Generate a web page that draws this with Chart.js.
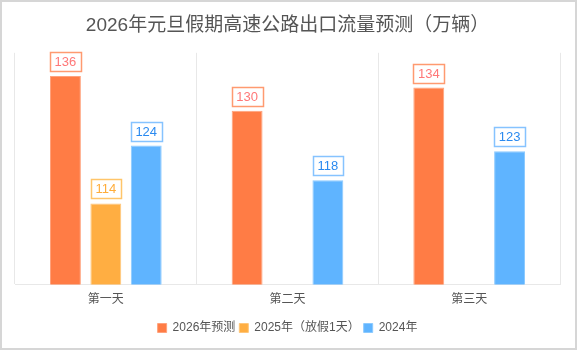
<!DOCTYPE html>
<html>
<head>
<meta charset="utf-8">
<script src="https://cdn.jsdelivr.net/npm/chart.js@4/dist/chart.umd.min.js"></script>
<style>
    html, body { margin: 0; padding: 0; background: #fff; }
    .frame {
        width: 577px;
        height: 350px;
        box-sizing: border-box;
        border: 2px solid #d6d6d6;
        background: #fff;
    }
    .frame canvas { display: block; }
</style>
</head>
<body>
<div class="frame"><canvas id="flowChart" width="573" height="346"></canvas></div>
<script>
// Data (万辆)
const categories = ['第一天', '第二天', '第三天'];
const forecast2026 = [136, 130, 134];
const actual2025 = [114, null, null];
const actual2024 = [124, 118, 123];

const seriesNames = ['2026年预测', '2025年（放假1天）', '2024年'];
const barColors = ['#ff7c45', '#ffae42', '#5fb4ff'];
const barBorders = ['#ffa27c', '#ffc67a', '#8ccaff'];
const labelText = ['#ff7878', '#ffad3a', '#2a8af0'];
const labelBorder = ['#ff9a70', '#ffc56a', '#86c3ff'];

const FONT = 'Arial, "Liberation Sans", "Noto Sans CJK SC", sans-serif';

// boxed value labels above each bar
const valueBoxes = {
    id: 'valueBoxes',
    afterDatasetsDraw(chart) {
        const ctx = chart.ctx;
        ctx.save();
        ctx.font = '13px ' + FONT;
        ctx.textAlign = 'center';
        ctx.textBaseline = 'middle';
        chart.data.datasets.forEach((ds, i) => {
            const meta = chart.getDatasetMeta(i);
            meta.data.forEach((bar, j) => {
                const v = ds.data[j];
                if (v === null || v === undefined) return;
                const text = String(v);
                const w = Math.round(ctx.measureText(text).width) + 9;
                const h = 19;
                const left = Math.round(bar.x - w / 2) + 0.5;
                const top = Math.round(bar.y - 5 - h) + 0.5;
                ctx.fillStyle = '#fff';
                ctx.fillRect(left, top, w, h);
                ctx.strokeStyle = labelBorder[i];
                ctx.lineWidth = 1.5;
                ctx.strokeRect(left, top, w, h);
                ctx.fillStyle = labelText[i];
                ctx.fillText(text, bar.x, top + h / 2 + 0.5);
            });
        });
        ctx.restore();
    }
};

const ctx = document.getElementById('flowChart').getContext('2d');
new Chart(ctx, {
    type: 'bar',
    data: {
        labels: categories,
        datasets: [forecast2026, actual2025, actual2024].map((d, i) => ({
            label: seriesNames[i],
            data: d,
            backgroundColor: barColors[i],
            borderColor: barBorders[i],
            borderWidth: 1,
            categoryPercentage: 0.667,
            barPercentage: 0.765
        }))
    },
    options: {
        responsive: false,
        animation: false,
        layout: { padding: { left: 13, right: 15, top: 0, bottom: 4 } },
        plugins: {
            title: {
                display: true,
                text: '2026年元旦假期高速公路出口流量预测（万辆）',
                color: '#555',
                font: { family: FONT, size: 19, weight: 'normal' },
                padding: { top: 12, bottom: 16 }
            },
            legend: {
                position: 'bottom',
                labels: {
                    color: '#555',
                    font: { family: FONT, size: 12 },
                    boxWidth: 9,
                    boxHeight: 9,
                    padding: 4
                }
            },
            tooltip: { enabled: false }
        },
        scales: {
            x: {
                grid: { color: '#e8e8e8', lineWidth: 1, drawTicks: false },
                border: { display: true, color: '#e8e8e8' },
                ticks: { color: '#555', padding: 8, font: { family: FONT, size: 12 } },
                afterFit: (scale) => { scale.height += 3; }
            },
            y: {
                display: false,
                min: 100,
                max: 140
            }
        }
    },
    plugins: [valueBoxes]
});
</script>
</body>
</html>
